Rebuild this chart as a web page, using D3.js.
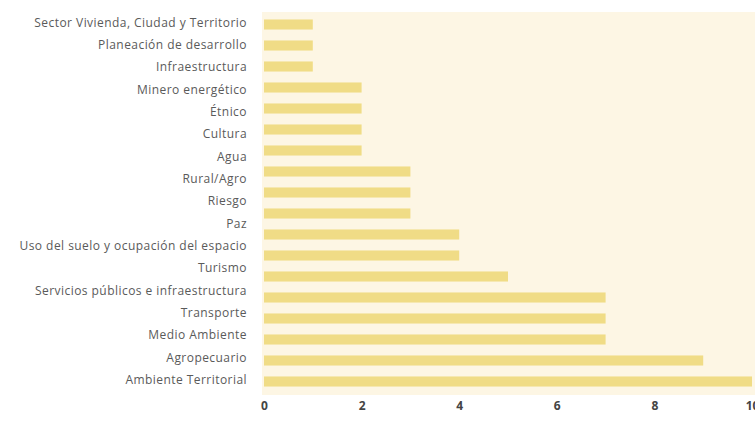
<!DOCTYPE html>
<html><head><meta charset="utf-8">
<script src="https://cdn.jsdelivr.net/npm/d3@7"></script>
<style>
html,body{margin:0;padding:0;background:#fff;}
svg{display:block;}
</style></head>
<body>
<svg id="c" width="755" height="425"></svg>
<script>
// Category labels as drawn on the axis (top to bottom)
const labels = [
  "Sector Vivienda, Ciudad y Territorio",
  "Planeación de desarrollo",
  "Infraestructura",
  "Minero energético",
  "Étnico",
  "Cultura",
  "Agua",
  "Rural/Agro",
  "Riesgo",
  "Paz",
  "Uso del suelo y ocupación del espacio",
  "Turismo",
  "Servicios públicos e infraestructura",
  "Transporte",
  "Medio Ambiente",
  "Agropecuario",
  "Ambiente Territorial"
];
// Bar values as drawn (top to bottom)
const values = [1, 1, 1, 2, 2, 2, 2, 3, 3, 3, 4, 4, 5, 7, 7, 7, 9, 10];
const xTicks = [0, 2, 4, 6, 8, 10];

const svg = d3.select("#c");
const x0 = 264, x1 = 752;
const yTop = 14, yBot = 392;

const x = d3.scaleLinear().domain([0, 10]).range([x0, x1]);
const yBar = d3.scaleBand().domain(d3.range(values.length)).range([yTop, yBot]).paddingInner(0.52).paddingOuter(0.26);
const yLab = d3.scalePoint().domain(labels).range([yBar(0) + yBar.bandwidth()/2 - 2, yBar(values.length-1) + yBar.bandwidth()/2 - 2]);

svg.append("rect").attr("x", 262).attr("y", 12).attr("width", 755 - 262).attr("height", 383).attr("fill", "#fdf6e4");

svg.append("g").selectAll("rect").data(values).join("rect")
  .attr("x", x(0))
  .attr("y", (d, i) => yBar(i))
  .attr("width", d => x(d) - x(0))
  .attr("height", yBar.bandwidth())
  .attr("fill", "#f0dc86");

const yAxis = d3.axisLeft(yLab).tickSize(0).tickPadding(0);
const gy = svg.append("g").attr("transform", "translate(247,0)").call(yAxis);
gy.select(".domain").remove();
gy.selectAll("text").attr("font-family", "'Open Sans', sans-serif").attr("font-size", "12px").attr("fill", "#5a5a5a").attr("letter-spacing", "0.45px");

const xAxis = d3.axisBottom(x).tickValues(xTicks).tickSize(0).tickPadding(0);
const gx = svg.append("g").attr("transform", "translate(0,401)").call(xAxis);
gx.select(".domain").remove();
gx.selectAll("text").attr("font-family", "'Open Sans', sans-serif").attr("font-size", "12px").attr("font-weight", "bold").attr("fill", "#444");
</script>
</body></html>
